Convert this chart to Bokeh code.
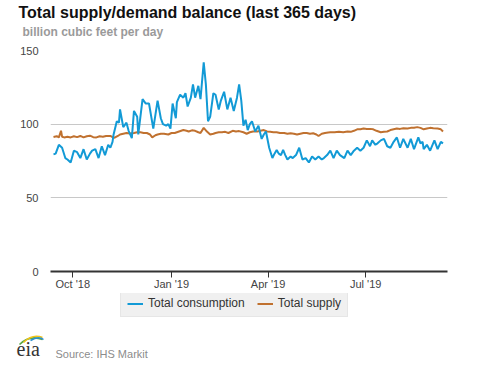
import pandas as pd
from bokeh.plotting import figure
from bokeh.layouts import column
from bokeh.models import (Range1d, FixedTicker, DatetimeTickFormatter, Legend, LegendItem)
from bokeh.core.properties import value
from bokeh.embed import file_html
from bokeh.resources import INLINE

# ---------------- data ----------------
start_date = "2018-09-13"

cons_days = [0, 2, 5, 8, 11, 13, 16, 19, 22, 25, 28, 31, 34, 36, 39, 42, 45, 48, 51, 53,
             55, 56, 59, 61, 62, 65, 68, 70, 73, 75, 78, 79, 83, 86, 89, 93, 97, 100, 102, 105,
             107, 109, 111, 114, 115, 118, 121, 123, 125, 128, 130, 132, 135, 137, 140, 142, 144, 146, 149, 151,
             154, 156, 159, 162, 165, 168, 171, 173, 175, 177, 179, 181, 183, 185, 188, 191, 194, 196, 198, 201,
             204, 206, 208, 210, 212, 214, 216, 218, 221, 223, 226, 229, 232, 235, 238, 241, 244, 247, 250, 252,
             255, 258, 261, 264, 267, 271, 274, 277, 280, 283, 286, 289, 292, 295, 297, 300, 302, 305, 308, 311,
             314, 317, 320, 323, 326, 330, 333, 336, 340, 342, 344, 345, 348, 351, 355, 358, 361, 363]
cons_vals = [79.5, 80, 86, 84, 77, 76, 74, 82, 81, 77, 83, 76, 80, 82, 83, 77, 85, 79, 86, 84,
             88, 93, 102, 101, 110, 98, 101, 95.5, 90.5, 109, 105, 93, 117, 114, 114, 97, 116, 104, 100, 99,
             100, 97, 114, 104, 115, 120, 118, 121, 112, 118, 127, 118, 126, 117, 142, 127, 102, 105, 121, 120,
             110, 116, 122, 110, 118, 109, 118, 127, 116, 99, 103, 96, 100, 102, 95, 99, 90, 93, 95, 84,
             77, 80, 82.5, 80, 79, 82.5, 79, 76, 78, 77, 79, 84, 76, 77, 74, 78, 76, 78, 76, 77,
             79, 82, 77, 82, 79, 77, 82, 79, 82, 84, 82, 84, 89, 85, 89, 86, 87, 89, 90, 85,
             84, 88, 91, 84, 90, 84, 90, 83, 91, 87, 88, 83, 86, 82, 89, 83, 88, 87]

supply_days = [0, 3, 5, 7, 8, 10, 13, 16, 19, 22, 25, 28, 31, 34, 37, 40, 43, 46, 49, 53,
               55, 57, 60, 62, 65, 68, 71, 75, 78, 81, 84, 87, 90, 92, 95, 97, 100, 103, 107, 110,
               113, 117, 121, 124, 126, 129, 132, 135, 137, 140, 143, 146, 149, 151, 154, 157, 160, 163, 167, 170,
               173, 177, 180, 183, 186, 190, 193, 196, 199, 202, 205, 208, 211, 215, 218, 221, 224, 227, 230, 233,
               236, 239, 242, 245, 247, 250, 253, 256, 258, 262, 266, 270, 274, 277, 280, 283, 286, 289, 292, 295,
               298, 301, 305, 308, 311, 314, 317, 320, 323, 326, 330, 333, 336, 339, 342, 345, 348, 351, 354, 358,
               361, 363]
supply_vals = [91.3, 91.8, 91, 95.5, 91.5, 91, 91.5, 91, 91.8, 91.2, 92, 91, 91.8, 92.2, 91.2, 91, 91.8, 91.5, 92, 92,
               91.2, 90.8, 92, 93, 93.5, 94, 93.6, 94, 94.5, 94.5, 94, 94, 93, 91, 92.5, 93, 93.5, 93.5, 93, 94,
               94, 95, 96, 95.5, 95, 95.8, 95.5, 94.5, 94, 97.5, 95, 93, 93.5, 94, 94.5, 94.5, 94.8, 94, 95.5, 95,
               95.3, 94.5, 93.5, 94.5, 95, 95, 95.5, 96, 95, 94.8, 94.5, 94.5, 94, 94, 93.5, 93.8, 93.5, 93, 93.5, 94,
               94, 93.5, 93.8, 93, 92, 93.5, 94, 94.3, 94.5, 94.5, 94.8, 94.5, 95, 94.8, 95.5, 96.5, 96.5, 97, 96.8, 96.8,
               96.5, 95.5, 94.5, 94.8, 95, 96, 96.5, 97, 96.8, 97.2, 97, 97.5, 97.6, 98, 97.5, 96.5, 97, 97.5, 97.2, 97,
               96.5, 95]

tick_dates = ["2018-10-01", "2019-01-01", "2019-04-01", "2019-07-01"]
y_ticks = [0, 50, 100, 150]

title_text = "Total supply/demand balance (last 365 days)"
subtitle_text = "billion cubic feet per day"
source_text = "Source: IHS Markit"
logo_text = "eia"
series_names = ["Total consumption", "Total supply"]
series_colors = ["#129ad6", "#c0712f"]

W = 469
HEAD_H, MAIN_H, FOOT_H = 45, 248, 66


def blank(h):
    f = figure(width=W, height=h, output_backend="svg", toolbar_location=None,
               x_range=Range1d(0, W), y_range=Range1d(0, h),
               x_axis_location=None, y_axis_location=None,
               min_border=0, min_border_left=0, min_border_right=0,
               min_border_top=0, min_border_bottom=0)
    f.outline_line_color = None
    f.grid.visible = False
    f.background_fill_color = "white"
    f.border_fill_color = "white"
    f.title.visible = False
    f.frame_align = False
    return f


def add_text(f, x, y, txt, size, color, style="normal", font="Liberation Sans"):
    f.text(x=[x], y=[y], text=[txt], text_font=value(font), text_font_size=size,
           text_font_style=style, text_color=color,
           text_baseline="middle", text_align="left")


# ---------------- header (title + subtitle) ----------------
head = blank(HEAD_H)
add_text(head, 18, 33, title_text, "16px", "#111111", "bold")
add_text(head, 22, 14, subtitle_text, "12px", "#9a9a9a", "bold")

# ---------------- main chart ----------------
t0 = pd.Timestamp(start_date)
cons_x = t0 + pd.to_timedelta(cons_days, unit="D")
supply_x = t0 + pd.to_timedelta(supply_days, unit="D")

p = figure(width=W, height=MAIN_H, x_axis_type="datetime",
           output_backend="svg", toolbar_location=None,
           x_range=Range1d(t0 - pd.Timedelta(days=2.8), t0 + pd.Timedelta(days=367.2)),
           y_range=Range1d(0, 150),
           min_border_left=50, min_border_right=W - 447, min_border_top=5, min_border_bottom=22)
p.outline_line_color = None
p.background_fill_color = "white"
p.border_fill_color = "white"
p.title.visible = False
p.frame_align = False

r_sup = p.line(supply_x, supply_vals, line_color=series_colors[1], line_width=2)
r_con = p.line(cons_x, cons_vals, line_color=series_colors[0], line_width=2)

p.xgrid.visible = False
p.ygrid.grid_line_color = "#c8c8c8"
p.ygrid.grid_line_width = 1

yax = p.yaxis[0]
yax.ticker = FixedTicker(ticks=y_ticks)
yax.axis_line_color = None
yax.major_tick_line_color = None
yax.minor_tick_line_color = None
yax.major_label_text_font = "Liberation Sans"
yax.major_label_text_font_size = "11px"
yax.major_label_text_color = "#444444"
yax.major_label_standoff = 6

xax = p.xaxis[0]
xax.ticker = FixedTicker(ticks=[pd.Timestamp(d).value / 1e6 for d in tick_dates])
fmt = "%b '%y"
xax.formatter = DatetimeTickFormatter(days=fmt, months=fmt, years=fmt, hours=fmt,
                                      minutes=fmt, seconds=fmt, milliseconds=fmt,
                                      microseconds=fmt, minsec=fmt, hourmin=fmt)
xax.axis_line_color = "#333333"
xax.axis_line_width = 2
xax.major_tick_line_color = "#333333"
xax.major_tick_out = 6
xax.major_tick_in = 0
xax.minor_tick_line_color = None
xax.major_label_text_font = "Liberation Sans"
xax.major_label_text_font_size = "11px"
xax.major_label_text_color = "#444444"
xax.major_label_standoff = 0

# ---------------- footer (legend + source + logo) ----------------
foot = blank(FOOT_H)
nan = float("nan")
lc = foot.line(x=[nan], y=[nan], line_color=series_colors[0], line_width=2)
ls = foot.line(x=[nan], y=[nan], line_color=series_colors[1], line_width=2)
legend = Legend(items=[LegendItem(label=series_names[0], renderers=[lc]),
                       LegendItem(label=series_names[1], renderers=[ls])],
                orientation="horizontal", location=(120, 42),
                background_fill_color="#f0f0f0", background_fill_alpha=1.0,
                border_line_color="#dcdcdc", border_line_width=1,
                label_text_font="Liberation Sans", label_text_font_size="12px",
                label_text_color="#333333", glyph_width=16, glyph_height=13,
                label_height=13, padding=6, spacing=12, label_standoff=5, margin=0)
foot.add_layout(legend)

add_text(foot, 55, 5.5, source_text, "11px", "#8c8c8c")
add_text(foot, 16, 11, logo_text, "20px", "#333333", font="Liberation Serif")
# logo swooshes
foot.quadratic(x0=[19, 23, 30], y0=[15, 17, 19], x1=[42, 42, 43], y1=[20, 22, 20],
               cx=[29, 32, 38], cy=[25, 26, 24],
               line_color=["#5aa946", "#f3c318", "#2a8fd0"], line_width=1.6)

layout = column(head, p, foot, spacing=0)
open("out.html", "w").write(file_html(layout, INLINE))
